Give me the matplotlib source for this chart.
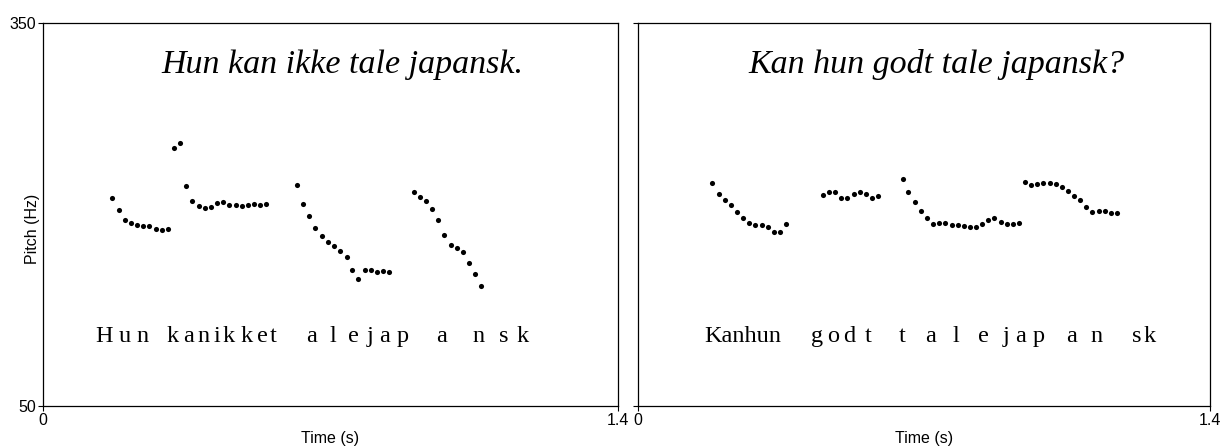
import matplotlib
matplotlib.use('Agg')
import matplotlib.pyplot as plt
import numpy as np

plt.rcParams['font.family'] = 'Liberation Sans'

# pitch track, declarative sentence (time s, pitch Hz)
t_decl = [0.168, 0.185, 0.199, 0.214, 0.229, 0.244, 0.258, 0.274, 0.289, 0.303,
          0.319, 0.333, 0.349, 0.363, 0.379, 0.393, 0.409, 0.423, 0.439, 0.453,
          0.469, 0.484, 0.499, 0.514, 0.529, 0.544,
          0.618, 0.633, 0.648, 0.663, 0.679, 0.693, 0.709, 0.723, 0.739, 0.753,
          0.768, 0.783, 0.798, 0.813, 0.828, 0.843,
          0.903, 0.918, 0.933, 0.948, 0.963, 0.977, 0.993, 1.008, 1.023, 1.038,
          1.053, 1.068]
f_decl = [212.7, 203.5, 195.7, 193.1, 191.5, 191.0, 190.7, 188.4, 187.6, 188.6,
          251.9, 255.9, 222.1, 210.8, 206.4, 204.9, 205.9, 208.8, 209.6, 207.5,
          207.5, 206.4, 207.5, 208.2, 207.5, 208.0,
          223.4, 208.2, 198.6, 189.2, 183.1, 178.2, 175.5, 171.1, 166.7, 156.5,
          149.4, 156.5, 156.2, 154.7, 155.4, 154.7,
          217.6, 214.0, 210.6, 204.3, 195.4, 183.9, 176.1, 173.7, 170.8, 161.9,
          153.3, 143.9]

# pitch track, question
t_quest = [0.181, 0.197, 0.212, 0.227, 0.242, 0.257, 0.272, 0.287, 0.302, 0.317,
           0.332, 0.347, 0.362,
           0.452, 0.467, 0.482, 0.496, 0.512, 0.527, 0.542, 0.557, 0.572, 0.587,
           0.647, 0.661, 0.677, 0.692, 0.707, 0.722, 0.737, 0.752, 0.767, 0.782,
           0.797, 0.812, 0.827, 0.842, 0.857, 0.872, 0.888, 0.902, 0.917, 0.932,
           0.947, 0.962, 0.977, 0.992, 1.007, 1.022, 1.037, 1.052, 1.067, 1.082,
           1.097, 1.112, 1.128, 1.142, 1.158, 1.172]
f_quest = [224.7, 215.8, 211.6, 207.2, 202.0, 197.0, 193.1, 192.0, 192.0, 190.0,
           186.3, 186.0, 192.5,
           215.1, 217.9, 217.6, 212.9, 213.2, 216.1, 217.4, 216.3, 213.2, 214.7,
           227.6, 217.6, 209.8, 203.0, 197.0, 192.3, 193.3, 193.3, 191.8, 191.8,
           191.0, 190.0, 190.0, 192.5, 195.7, 197.0, 194.1, 192.5, 192.3, 193.6,
           225.7, 223.4, 223.7, 224.5, 224.7, 223.9, 221.6, 218.7, 214.7, 211.1,
           206.1, 202.2, 203.0, 203.0, 200.9, 201.4]

# segment letters under each track
seg_decl = ['H', 'u', 'n', 'k', 'a', 'n', 'i', 'k', 'k', 'e', 't',
            'a', 'l', 'e', 'j', 'a', 'p', 'a', 'n', 's', 'k']
seg_decl_t = [0.148, 0.199, 0.242, 0.316, 0.355, 0.390, 0.423, 0.452, 0.495, 0.533, 0.561,
              0.653, 0.706, 0.755, 0.797, 0.831, 0.876, 0.971, 1.060, 1.123, 1.169]
seg_quest = ['Kanhun', 'g', 'o', 'd', 't', 't', 'a', 'l', 'e', 'j', 'a', 'p',
             'a', 'n', 's', 'k']
seg_quest_t = [0.256, 0.438, 0.478, 0.516, 0.564, 0.647, 0.715, 0.777, 0.844, 0.901,
               0.935, 0.980, 1.062, 1.121, 1.220, 1.252]

titles = ['Hun kan ikke tale japansk.', 'Kan hun godt tale japansk?']

W, H = 1221, 446
fig = plt.figure(figsize=(W / 100, H / 100), dpi=100)
ax1 = fig.add_axes([43.3 / W, 1 - 405.7 / H, 574.4 / W, 382.4 / H])
ax2 = fig.add_axes([638.3 / W, 1 - 405.7 / H, 571.7 / W, 382.4 / H])

panels = [(ax1, t_decl, f_decl, seg_decl, seg_decl_t, titles[0]),
          (ax2, t_quest, f_quest, seg_quest, seg_quest_t, titles[1])]

for ax, t, f, seg, seg_t, title in panels:
    ax.plot(t, f, 'o', color='black', markersize=3.7, markeredgewidth=0)
    ax.set_xlim(0, 1.4)
    ax.set_ylim(50, 350)
    ax.set_xticks([0, 1.4])
    ax.set_xticklabels(['0', '1.4'])
    ax.set_yticks([50, 350])
    ax.tick_params(direction='out', length=3.5, width=0.8, labelsize=11.5, pad=1.5)
    for s in ax.spines.values():
        s.set_linewidth(0.9)
    ax.text(0.73, 311, title, ha='center', va='baseline', fontsize=24.5,
            style='italic', family='Liberation Serif')
    for ch, x in zip(seg, seg_t):
        ax.text(x, 100, ch, ha='center', va='baseline', fontsize=17.5,
                family='Liberation Serif')

ax1.set_yticklabels(['50', '350'])
ax2.set_yticklabels([])

fig.text(32 / W, 1 - 229 / H, 'Pitch (Hz)', rotation=90, ha='center', va='center', fontsize=11.5)
fig.text(330.5 / W, 1 - 438 / H, 'Time (s)', ha='center', va='center', fontsize=11.5)
fig.text(924 / W, 1 - 438 / H, 'Time (s)', ha='center', va='center', fontsize=11.5)

plt.savefig('out.png', dpi=100)
